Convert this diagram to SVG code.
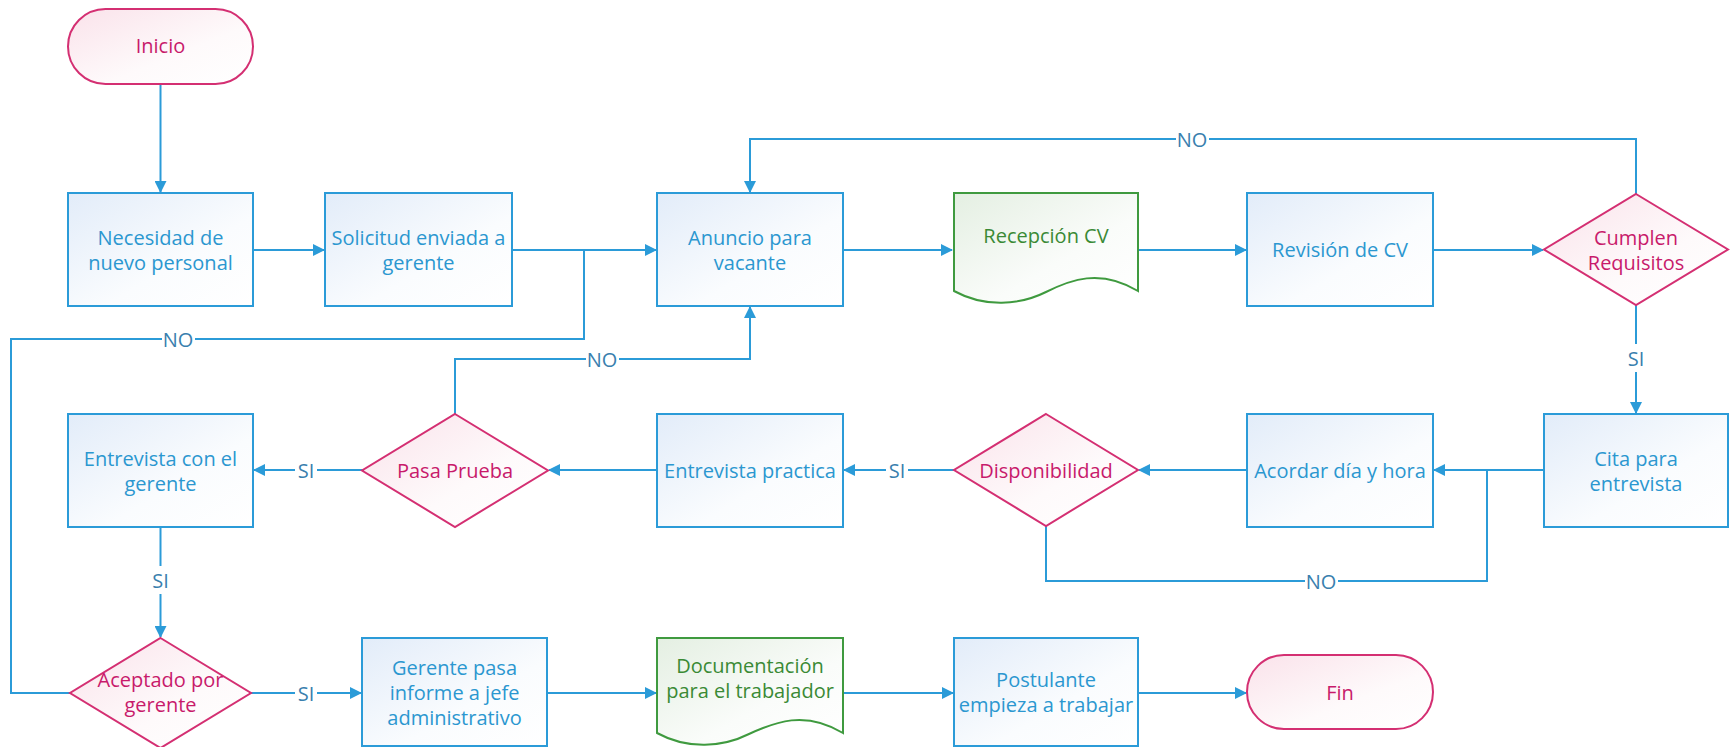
<svg xmlns="http://www.w3.org/2000/svg" width="1730" height="747" viewBox="0 0 1730 747">
<style>
.box{fill:url(#gb);stroke:#2b9bd8;stroke-width:2}
.dec{fill:url(#gp);stroke:#d42f72;stroke-width:2}
.doc{fill:url(#gg);stroke:#3f9a3f;stroke-width:2}
.t{font-family:"Open Sans","Noto Sans",sans-serif;font-size:20px;text-anchor:middle;dominant-baseline:central}
.tb{fill:#2b97d0}
.tp{fill:#c81a6b}
.tg{fill:#3a8a35}
.c{fill:none;stroke:#2b9bd8;stroke-width:2}
.lb{font-family:"Open Sans","Noto Sans",sans-serif;font-size:20px;text-anchor:middle;dominant-baseline:central;fill:#3a7fae}
.bg{fill:#fff}
</style>
<defs>
<linearGradient id="gb" x1="0" y1="0" x2="1" y2="1"><stop offset="0" stop-color="#e2ecf9"/><stop offset="0.6" stop-color="#fafcfe"/><stop offset="1" stop-color="#ffffff"/></linearGradient>
<linearGradient id="gp" x1="0" y1="0" x2="1" y2="1"><stop offset="0" stop-color="#fae2ea"/><stop offset="0.6" stop-color="#fefafb"/><stop offset="1" stop-color="#ffffff"/></linearGradient>
<linearGradient id="gg" x1="0" y1="0" x2="1" y2="1"><stop offset="0" stop-color="#e4efe2"/><stop offset="0.6" stop-color="#fafcfa"/><stop offset="1" stop-color="#ffffff"/></linearGradient>
<marker id="ar" viewBox="0 0 12 12" refX="11" refY="6" markerWidth="12" markerHeight="12" markerUnits="userSpaceOnUse" orient="auto"><path d="M0,0 L12,6 L0,12 Z" fill="#2b9bd8"/></marker>
</defs>

<g id="connectors">
<path class="c" d="M160.5,84 V192" marker-end="url(#ar)"/>
<path class="c" d="M253,250 H324" marker-end="url(#ar)"/>
<path class="c" d="M512,250 H656" marker-end="url(#ar)"/>
<path class="c" d="M843,250 H952" marker-end="url(#ar)"/>
<path class="c" d="M1138,250 H1246" marker-end="url(#ar)"/>
<path class="c" d="M1433,250 H1543" marker-end="url(#ar)"/>
<path class="c" d="M1636,194 V139 H750 V192" marker-end="url(#ar)"/>
<path class="c" d="M1636,305 V413" marker-end="url(#ar)"/>
<path class="c" d="M1544,470 H1434" marker-end="url(#ar)"/>
<path class="c" d="M1247,470 H1139" marker-end="url(#ar)"/>
<path class="c" d="M1046,526 V581 H1487 V470"/>
<path class="c" d="M954,470 H844" marker-end="url(#ar)"/>
<path class="c" d="M657,470 H549" marker-end="url(#ar)"/>
<path class="c" d="M455,414 V359 H750 V307" marker-end="url(#ar)"/>
<path class="c" d="M363,470 H254" marker-end="url(#ar)"/>
<path class="c" d="M160.5,527 V637" marker-end="url(#ar)"/>
<path class="c" d="M70,693 H11 V339 H584 V250"/>
<path class="c" d="M251,693 H361" marker-end="url(#ar)"/>
<path class="c" d="M547,693 H656" marker-end="url(#ar)"/>
<path class="c" d="M843,693 H953" marker-end="url(#ar)"/>
<path class="c" d="M1138,693 H1246" marker-end="url(#ar)"/>
<rect class="bg" x="1176" y="128" width="33" height="22"/><text class="lb" x="1192" y="139">NO</text>
<rect class="bg" x="162" y="328" width="33" height="22"/><text class="lb" x="178" y="339">NO</text>
<rect class="bg" x="586" y="348" width="33" height="22"/><text class="lb" x="602" y="359">NO</text>
<rect class="bg" x="1305" y="570" width="33" height="22"/><text class="lb" x="1321" y="581">NO</text>
<rect class="bg" x="1624" y="344" width="24" height="28"/><text class="lb" x="1636" y="358">SI</text>
<rect class="bg" x="886" y="459" width="22" height="22"/><text class="lb" x="897" y="470">SI</text>
<rect class="bg" x="295" y="459" width="22" height="22"/><text class="lb" x="306" y="470">SI</text>
<rect class="bg" x="148.5" y="566" width="24" height="28"/><text class="lb" x="160.5" y="580">SI</text>
<rect class="bg" x="295" y="682" width="22" height="22"/><text class="lb" x="306" y="693">SI</text>
</g>

<g id="inicio"><rect class="dec" x="68" y="9" width="185" height="75" rx="37.5"/><text class="t tp" x="160.5" y="45">Inicio</text></g>
<g id="necesidad"><rect class="box" x="68" y="193" width="185" height="113"/><text class="t tb" x="160.5" y="237">Necesidad de</text><text class="t tb" x="160.5" y="262">nuevo personal</text></g>
<g id="solicitud"><rect class="box" x="325" y="193" width="187" height="113"/><text class="t tb" x="418.5" y="237">Solicitud enviada a</text><text class="t tb" x="418.5" y="262">gerente</text></g>
<g id="anuncio"><rect class="box" x="657" y="193" width="186" height="113"/><text class="t tb" x="750" y="237">Anuncio para</text><text class="t tb" x="750" y="262">vacante</text></g>
<g id="recepcion"><path class="doc" d="M954,193 H1138 V291 C1100,268 1070,280 1046,292 C1020,305 985,308 954,291 Z"/><text class="t tg" x="1046" y="235">Recepción CV</text></g>
<g id="revision"><rect class="box" x="1247" y="193" width="186" height="113"/><text class="t tb" x="1340" y="249">Revisión de CV</text></g>
<g id="cumplen"><path class="dec" d="M1636,194 L1728,249.5 L1636,305 L1544,249.5 Z"/><text class="t tp" x="1636" y="237">Cumplen</text><text class="t tp" x="1636" y="262">Requisitos</text></g>
<g id="cita"><rect class="box" x="1544" y="414" width="184" height="113"/><text class="t tb" x="1636" y="458">Cita para</text><text class="t tb" x="1636" y="483">entrevista</text></g>
<g id="acordar"><rect class="box" x="1247" y="414" width="186" height="113"/><text class="t tb" x="1340" y="470.5">Acordar día y hora</text></g>
<g id="disponibilidad"><path class="dec" d="M1046,414 L1138,470 L1046,526 L954,470 Z"/><text class="t tp" x="1046" y="470">Disponibilidad</text></g>
<g id="entrevista-practica"><rect class="box" x="657" y="414" width="186" height="113"/><text class="t tb" x="750" y="470.5">Entrevista practica</text></g>
<g id="pasa-prueba"><path class="dec" d="M455,414 L548,470.5 L455,527 L362,470.5 Z"/><text class="t tp" x="455" y="470.5">Pasa Prueba</text></g>
<g id="entrevista-gerente"><rect class="box" x="68" y="414" width="185" height="113"/><text class="t tb" x="160.5" y="458">Entrevista con el</text><text class="t tb" x="160.5" y="483">gerente</text></g>
<g id="aceptado"><path class="dec" d="M160.5,638 L251,693 L160.5,748 L70,693 Z"/><text class="t tp" x="160.5" y="679">Aceptado por</text><text class="t tp" x="160.5" y="704">gerente</text></g>
<g id="gerente-pasa"><rect class="box" x="362" y="638" width="185" height="108"/><text class="t tb" x="454.5" y="667">Gerente pasa</text><text class="t tb" x="454.5" y="692">informe a jefe</text><text class="t tb" x="454.5" y="717">administrativo</text></g>
<g id="documentacion"><path class="doc" d="M657,638 H843 V733 C805,710 775,722 749,734 C723,747 688,750 657,733 Z"/><text class="t tg" x="750" y="665">Documentación</text><text class="t tg" x="750" y="690">para el trabajador</text></g>
<g id="postulante"><rect class="box" x="954" y="638" width="184" height="108"/><text class="t tb" x="1046" y="679">Postulante</text><text class="t tb" x="1046" y="704">empieza a trabajar</text></g>
<g id="fin"><rect class="dec" x="1247" y="655" width="186" height="74" rx="37"/><text class="t tp" x="1340" y="692">Fin</text></g>
</svg>
